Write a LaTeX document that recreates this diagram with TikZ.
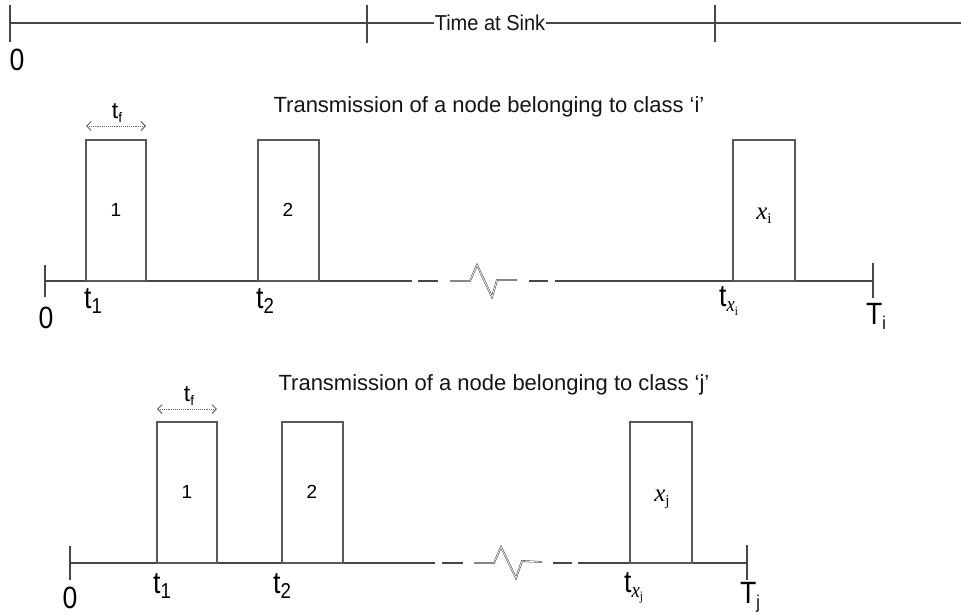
\documentclass[tikz,border=0pt]{standalone}
\usepackage{fontspec}
\setmainfont{Liberation Sans}
\newfontfamily\tms{Liberation Serif}
\usetikzlibrary{arrows.meta}
\newcommand\mysub[1]{\raisebox{-0.3ex}{\scalebox{0.7}{#1}}}
\newcommand\smsub[1]{\raisebox{-0.3ex}{\scalebox{0.6}{#1}}}
\newcommand\tall[1]{\scalebox{0.95}[1.1]{#1}}
\newcommand\fs[1]{\fontsize{#1}{#1}\selectfont}
\tikzset{
  ax/.style={line width=1.3pt, draw=black!72},
  zig/.style={draw=black!72, double=white, double distance=0.7pt, line width=0.55pt},
  pkt/.style={line width=1.3pt, draw=black!65},
  dur/.style={densely dotted, line width=0.9pt, draw=black!60,
     {Straight Barb[length=4.5pt,width=9pt]}-{Straight Barb[length=4.5pt,width=9pt]}},
  lbl/.style={inner sep=0pt, font=\fs{28}, text=black},
  pnum/.style={inner sep=0pt, font=\fs{19}, text=black},
  ttl/.style={inner sep=0pt, font=\fs{22}, text=black!92},
  xlb/.style={inner sep=0pt, font=\fs{25}, text=black},
  tfl/.style={inner sep=0pt, font=\fs{23}, text=black},
}
\begin{document}
\begin{tikzpicture}[x=1pt,y=-1pt]
\useasboundingbox (0,0) rectangle (961,615);
% ---- top time line ----
\draw[ax] (10,23) -- (961,23);
\draw[ax] (10,5) -- (10,42);
\draw[ax] (367,5) -- (367,43);
\draw[ax] (715,5) -- (715,42);
\node[fill=white, inner xsep=1pt, inner ysep=2pt, font=\fs{20}, text=black!92] (sink) at (490,23) {\scalebox{1}[1.08]{Time at Sink}};
\node[lbl] (z0) at (17,60) {\tall{0}};
% ---- upper panel ----
\node[ttl] (ti) at (489,107) {Transmission of a node belonging to class ‘i’};
\draw[ax] (45,281) -- (412,281);
\draw[ax] (418,281) -- (438,281);
\draw[zig] (450,281) -- (470,281) -- (477,265) -- (492,297) -- (497,280) -- (517,280);
\draw[ax] (529,281) -- (548,281);
\draw[ax] (555,281) -- (873,281);
\draw[ax] (45,265) -- (45,297);
\draw[ax] (873,263) -- (873,298);
\draw[pkt] (86,281) rectangle (146,140);
\draw[pkt] (258,281) rectangle (319,140);
\draw[pkt] (733,281) rectangle (795,140);
\node[pnum] (u1) at (116,210) {1};
\node[pnum] (u2) at (288,210) {2};
\node[xlb] (ux) at (764,216) {{\tms\itshape x}\smsub{\tms i}};
\coordinate (ua) at (86,126); \coordinate (ub) at (146,126);
\draw[dur] (ua) -- (ub);
\node[tfl] (utf) at (117,113) {t\smsub{f}};
\node[lbl] (u0) at (46,318) {\tall{0}};
\node[lbl, anchor=west] (ut1) at (84,301) {\tall{t\mysub{1}}};
\node[lbl, anchor=west] (ut2) at (256,301) {\tall{t\mysub{2}}};
\node[lbl, anchor=west] (utx) at (719,301) {\tall{t\mysub{{\tms\itshape x}\smsub{\tms i}}}};
\node[lbl] (uT) at (876,316) {\tall{T\smsub{i}}};
% ---- lower panel ----
\node[ttl] (tj) at (494,385) {Transmission of a node belonging to class ‘j’};
\draw[ax] (70,563) -- (435,563);
\draw[ax] (442,563) -- (463,563);
\draw[zig] (474,563) -- (494,563) -- (501,547) -- (516,578) -- (522,561) -- (542,562);
\draw[ax] (553,563) -- (572,563);
\draw[ax] (578,563) -- (747,563);
\draw[ax] (70,546) -- (70,580);
\draw[ax] (747,545) -- (747,580);
\draw[pkt] (157,563) rectangle (217,422);
\draw[pkt] (282,563) rectangle (343,422);
\draw[pkt] (630,563) rectangle (692,422);
\node[pnum] (l1) at (187,492) {1};
\node[pnum] (l2) at (312,492) {2};
\node[xlb] (lx) at (662,499) {{\tms\itshape x}\smsub{\tms j}};
\coordinate (la) at (157,409); \coordinate (lb) at (217,409);
\draw[dur] (la) -- (lb);
\node[tfl] (ltf) at (189,396) {t\smsub{f}};
\node[lbl] (l0) at (70,598) {\tall{0}};
\node[lbl, anchor=west] (lt1) at (153,586) {\tall{t\mysub{1}}};
\node[lbl, anchor=west] (lt2) at (273,586) {\tall{t\mysub{2}}};
\node[lbl, anchor=west] (ltx) at (624,588) {\tall{t\mysub{{\tms\itshape x}\smsub{\tms j}}}};
\node[lbl] (lT) at (750,597) {\tall{T\smsub{j}}};
\end{tikzpicture}
\end{document}
